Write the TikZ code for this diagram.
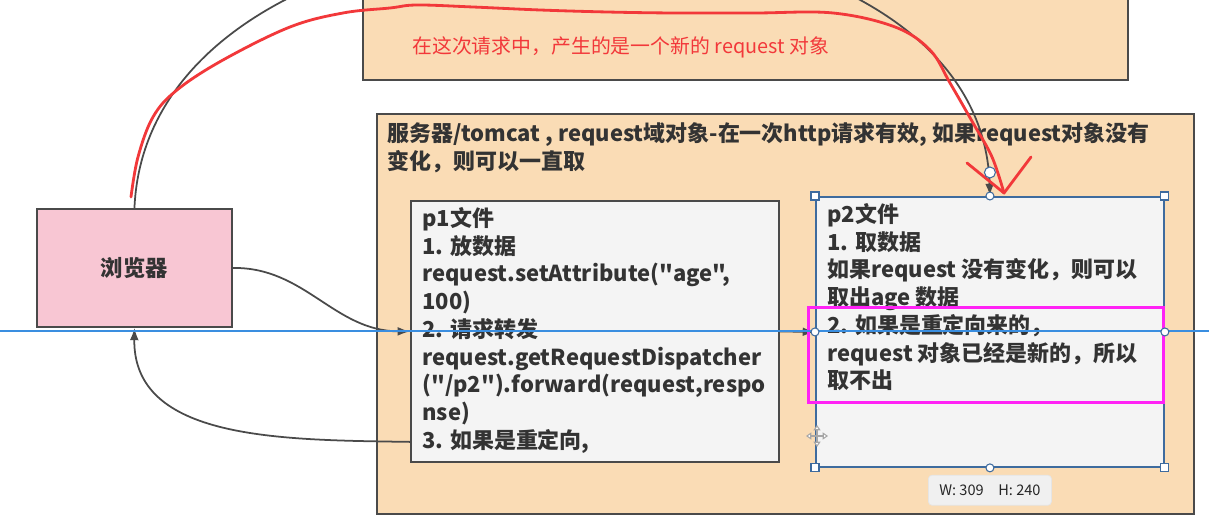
\documentclass[tikz,border=0pt]{standalone}
\usepackage{fontspec}
\newfontfamily\cjk{Noto Sans CJK SC}
\usetikzlibrary{arrows.meta,positioning}

\definecolor{boxtan}{HTML}{FADCB5}
\definecolor{boxgray}{HTML}{F4F4F4}
\definecolor{boxpink}{HTML}{F8C6D3}
\definecolor{edgegray}{HTML}{4A4A4A}
\definecolor{txtgray}{HTML}{333333}
\definecolor{penred}{HTML}{F2383A}
\definecolor{selblue}{HTML}{3E6B9E}
\definecolor{guideblue}{HTML}{3A8EE0}
\definecolor{markpink}{HTML}{FF22F5}

\begin{document}
\begin{tikzpicture}[
        x=0.02cm, y=-0.02cm,
        box/.style={draw=edgegray, line width=1.1pt, anchor=north west, inner sep=0pt},
        txt/.style={anchor=north west, inner sep=0pt, align=left, text=txtgray,
            font=\cjk\bfseries\fontsize{12.5pt}{15.8pt}\selectfont},
        note/.style={anchor=west, inner sep=0pt, text=penred,
            font=\cjk\fontsize{11.3pt}{14pt}\selectfont},
        edge/.style={draw=edgegray, line width=1pt, -{Latex[length=7pt,width=5pt]}},
        redpen/.style={draw=penred, line width=1.6pt, line cap=round, line join=round},
        guide/.style={draw=guideblue, line width=0.8pt},
        gripsq/.style={draw=selblue, fill=white, line width=0.6pt, minimum size=0.16cm, inner sep=0pt},
        gripdot/.style={circle, draw=selblue, fill=white, line width=0.6pt, minimum size=0.16cm, inner sep=0pt},
        sizetip/.style={fill=gray!12, draw=gray!20, rounded corners=2pt, inner sep=0pt,
            minimum width=2.46cm, minimum height=0.6cm, text=gray!30!black,
            font=\cjk\fontsize{8.3pt}{9pt}\selectfont},
    ]
    \useasboundingbox (0,0) rectangle (1209,519);
    \clip (0,0) rectangle (1209,519);
    \fill[white] (0,0) rectangle (1209,519);

    % === BOXES ===
    \node[box, fill=boxtan, anchor=south west, minimum width=15.3cm, minimum height=2.1cm] (newreq) at (362,81) {};

    \node[box, fill=boxtan, minimum width=16.34cm, minimum height=8cm] (server) at (376,113) {};
    \node[txt, below right=0.18cm and 0.22cm of server.north west] (title)
        {服务器/tomcat , request域对象-在一次http请求有效, 如果request对象没有\\变化，则可以一直取};

    \node[box, fill=boxpink, minimum width=3.9cm, minimum height=2.36cm, anchor=north west,
        text=txtgray, font=\cjk\bfseries\fontsize{12.7pt}{15pt}\selectfont] (browser) at (36,208) {浏览器};

    \node[box, fill=boxgray, minimum width=7.36cm, minimum height=5.22cm] (p1) at (410,200) {};
    \node[txt, below right=0.14cm and 0.24cm of p1.north west] (p1text)
        {p1文件\\1. 放数据\\request.setAttribute("age",\\100)\\2. 请求转发\\request.getRequestDispatcher\\("/p2").forward(request,respo\\nse)\\3. 如果是重定向,};

    \node[box, fill=boxgray, draw=selblue, minimum width=6.96cm, minimum height=5.4cm] (p2) at (815,196) {};
    \node[txt, below right=0.14cm and 0.24cm of p2.north west] (p2text)
        {p2文件\\1. 取数据\\如果request 没有变化，则可以\\取出age 数据\\2. 如果是重定向来的，\\request 对象已经是新的，所以\\取不出};

    % === ARROWS ===
    \draw[edge] (browser.east) .. controls (305,267) and (334,331) .. (p1.west);
    \draw[edge] (p1.east) -- (p2.west);
    \draw[edge] ([yshift=0.42cm]p1.south west) .. controls (280,440) and (133,440) .. (browser.south);
    \draw[edge] (browser.north) .. controls (150,-150) and (980,-150) .. (p2.north);

    % === RED NOTE ===
    \node[note] (note) at (412,47) {在这次请求中，产生的是一个新的 request 对象};
    \draw[redpen] plot[smooth, tension=0.6] coordinates {(131,197) (138,157) (153,117) (177,90) (223,60)
        (290,27) (343,13) (390,8) (417,5) (473,7) (540,10) (607,12) (673,13) (755,13) (833,13)
        (895,27) (930,50) (950,83) (973,123) (992,157) (1004,193)};
    \draw[redpen] (967,163) -- (1004,193) -- (1031,157);

    \node[box, draw=markpink, line width=1.7pt, minimum width=7.1cm, minimum height=1.9cm] (mark) at (807,306) {};

    % === EDITOR MARKS ===
    \coordinate (guideL) at (0,331);
    \coordinate (guideR) at (1209,331);
    \draw[guide] (guideL) -- (guideR);

    \foreach \a/\n in {north west/nw, north east/ne, south west/sw, south east/se}
        \node[gripsq] (sq\n) at (p2.\a) {};
    \foreach \a in {north, south, east, west}
        \node[gripdot] (dot\a) at (p2.\a) {};
    \node[gripdot, minimum size=0.22cm, above=0.35cm of p2.north] (rot) {};

    \node[sizetip, below=0.14cm of p2.south] (size) {W: 309\quad H: 240};

    \coordinate (mv) at (817,436);
    \foreach \ang in {0,90,180,270}
        \draw[gray!70, line width=0.6pt, -{Triangle[open, fill=white, length=3pt, width=4pt]}] (mv) -- ++(\ang:11);

\end{tikzpicture}
\end{document}
